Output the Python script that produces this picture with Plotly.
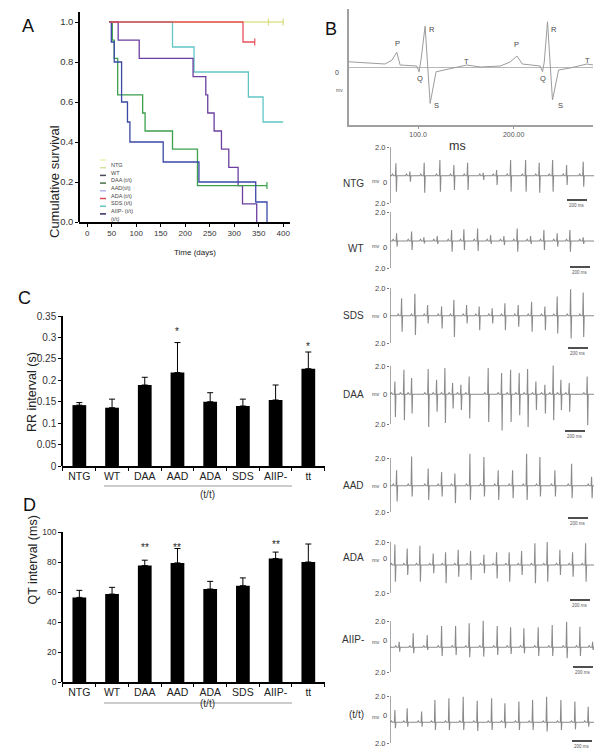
import plotly.graph_objects as go

# The page body adds an 8 px margin, so the figure is sized to the remaining window area
OX, OY = 8, 8
W, H = 602 - OX, 756 - OY
FONT = "Arial, Liberation Sans, sans-serif"


def fx(p):
    return (p - OX) / W


def fy(p):
    return 1 - (p - OY) / H


# ---------------- Panel A : Kaplan-Meier survival ----------------
ntg_days = [45, 400]
ntg_surv = [1.0, 1.0]
aiip_days = [45, 174, 218, 329, 359, 400]
aiip_surv = [1.0, 0.875, 0.75, 0.625, 0.5, 0.5]
ada_days = [45, 63, 106, 216, 242, 246, 259, 274, 289, 308, 317, 346]
ada_surv = [1.0, 0.909, 0.818, 0.727, 0.636, 0.545, 0.455, 0.364, 0.273, 0.182, 0.091, 0.0]
aad_days = [45, 51, 55, 62, 113, 118, 174, 225, 367]
aad_surv = [1.0, 0.909, 0.818, 0.636, 0.545, 0.455, 0.364, 0.182, 0.182]
daa_days = [45, 49, 55, 70, 82, 87, 155, 228, 344, 367]
daa_surv = [1.0, 0.9, 0.8, 0.6, 0.5, 0.4, 0.3, 0.2, 0.1, 0.0]
sds_days = [45, 318, 342]
sds_surv = [1.0, 0.9, 0.9]
censor_days = [370, 400, 342, 367]
censor_surv = [1.0, 1.0, 0.9, 0.182]
censor_colors = ["#d6db84", "#d6db84", "#e8505a", "#3ca04c"]
a_xticks = [0, 50, 100, 150, 200, 250, 300, 350, 400]
a_yticks = [0.0, 0.2, 0.4, 0.6, 0.8, 1.0]
a_yticktext = ["0.0", "0.2", "0.4", "0.6", "0.8", "1.0"]
legend_labels = ["NTG", "WT", "DAA (t/t)", "AAD(t/t)", "ADA (t/t)", "SDS (t/t)", "AIIP- (t/t)", "(t/t)"]
legend_colors = ["#eef0b0", "#d4e29a", "#4a4a5e", "#4a6e4a", "#b4b4ee", "#e04a58", "#66c4c4", "#2e2e5e"]

# ---------------- Panels C and D : bars ----------------
bar_groups = ["NTG", "WT", "DAA", "AAD", "ADA", "SDS", "AIIP-", "tt"]
rr_mean = [0.142, 0.136, 0.189, 0.218, 0.150, 0.140, 0.154, 0.227]
rr_err = [0.006, 0.020, 0.018, 0.070, 0.021, 0.016, 0.035, 0.039]
rr_sig = ["", "", "", "*", "", "", "", "*"]
rr_sig_y = [0, 0, 0, 0.320, 0, 0, 0, 0.287]
rr_ticks = [0, 0.05, 0.1, 0.15, 0.2, 0.25, 0.3, 0.35]
rr_ticktext = ["0", "0.05", "0.1", "0.15", "0.2", "0.25", "0.3", "0.35"]
qt_mean = [56.4, 58.6, 77.6, 79.4, 62.0, 64.2, 82.3, 80.0]
qt_err = [4.7, 4.5, 3.6, 9.6, 5.1, 5.2, 4.3, 12.0]
qt_sig = ["", "", "**", "**", "", "", "**", "**"]
qt_sig_y = [0, 0, 91.9, 91.9, 0, 0, 94.0, 102.0]
qt_ticks = [0, 20, 40, 60, 80, 100]

# ---------------- Panel B : annotated ECG ----------------
ecg_ms = [27.7, 49.7, 65.4, 72.8, 77.7, 81.2, 98.6, 101, 103, 107.3, 112.6, 118.8, 133.5, 151,
          165, 186, 196.3, 203.4, 209, 227.7, 230.2, 232, 235.4, 240.6, 247, 259, 276.6, 283]
ecg_mv = [0.13, 0.10, 0.075, 0.175, 0.37, 0.05, 0.025, -0.12, 0.17, 1.02, -0.91, -0.12, -0.05, 0.05,
          0.0, 0.025, 0.125, 0.275, 0.075, 0.025, -0.12, 0.125, 1.13, -0.825, -0.075, -0.025, 0.075, 0.05]
wave_text = ["P", "R", "Q", "S", "T", "P", "R", "Q", "S", "T"]
wave_ms = [78, 114.7, 102, 118.8, 151, 203.4, 241.7, 231.2, 248.7, 277.3]
wave_mv = [0.60, 0.95, -0.275, -0.95, 0.15, 0.56, 0.95, -0.275, -0.95, 0.175]

# ---------------- Panel B : ECG strips (beat time ms, R and S amplitude mV) ----------------
ntg_beat_ms = [60, 200, 343, 500, 640, 777, 933, 1067, 1207, 1357, 1493, 1627, 1767, 1933]
ntg_r_mv = [0.88, 0.29, 0.93, 1.12, 0.76, 0.93, 0.21, 0.40, 1.12, 1.12, 0.93, 1.12, 0.76, 1.00]
ntg_s_mv = [1.14, 0.43, 1.21, 1.14, 1.02, 1.02, 0.31, 0.67, 1.14, 1.14, 1.21, 1.14, 0.67, 0.79]

wt_beat_ms = [67, 217, 340, 473, 617, 740, 877, 1007, 1140, 1273, 1407, 1540, 1673, 1800, 1933]
wt_r_mv = [0.55, 0.67, 0.26, 0.36, 0.79, 0.83, 0.90, 0.43, 0.36, 0.90, 0.36, 0.79, 0.55, 0.79, 0.26]
wt_s_mv = [0.40, 0.64, 0.17, 0.21, 0.76, 0.64, 0.71, 0.21, 0.29, 0.76, 0.21, 0.64, 0.40, 0.76, 0.21]

sds_beat_ms = [117, 250, 377, 517, 640, 767, 893, 1023, 1150, 1283, 1417, 1550, 1673, 1807, 1933]
sds_r_mv = [1.27, 1.59, 0.78, 0.66, 1.15, 0.78, 0.66, 0.54, 0.90, 0.78, 1.02, 0.66, 1.39, 1.93, 1.68]
sds_s_mv = [1.17, 1.41, 0.56, 0.93, 1.54, 0.56, 1.05, 0.56, 1.05, 0.80, 1.17, 1.05, 1.29, 1.66, 1.54]

daa_beat_ms = [50, 140, 217, 383, 467, 550, 627, 710, 793, 983, 1117, 1207, 1293, 1377, 1460, 1550,
               1633, 1710, 1793, 1973]
daa_r_mv = [0.88, 1.70, 1.12, 1.74, 1.00, 1.81, 0.77, 0.65, 1.23, 1.81, 1.47, 1.70, 1.47, 1.74, 0.88,
            0.65, 1.98, 1.00, 0.77, 1.23]
daa_s_mv = [1.56, 1.79, 1.33, 2.26, 1.21, 1.98, 0.98, 1.09, 1.67, 1.91, 2.49, 1.91, 1.44, 2.26, 1.09,
            1.33, 1.79, 1.09, 1.21, 2.14]

aad_beat_ms = [67, 217, 383, 517, 650, 800, 940, 1083, 1227, 1367, 1500, 1650, 1817, 2017]
aad_r_mv = [1.15, 2.17, 1.27, 1.02, 0.90, 2.37, 2.12, 1.15, 1.15, 2.37, 2.12, 1.15, 1.63, 0.66]
aad_s_mv = [1.17, 0.80, 1.05, 0.80, 1.29, 1.05, 0.80, 1.05, 0.93, 1.05, 0.80, 0.80, 0.93, 0.93]

ada_beat_ms = [50, 173, 300, 433, 557, 683, 807, 940, 1067, 1193, 1317, 1450, 1573, 1700, 1827, 1957]
ada_r_mv = [1.6, 1.3, 1.5, 0.9, 1.0, 1.2, 1.1, 0.8, 1.0, 1.0, 1.1, 1.7, 1.8, 1.2, 1.0, 1.7]
ada_s_mv = [1.31, 0.78, 1.31, 0.65, 1.44, 0.92, 1.18, 0.65, 1.05, 1.31, 0.78, 1.44, 1.31, 0.78, 0.92, 1.31]

aiip_beat_ms = [93, 233, 373, 517, 657, 793, 933, 1073, 1207, 1340, 1483, 1623, 1767, 1900, 2027]
aiip_r_mv = [0.44, 1.10, 0.97, 1.67, 1.67, 1.88, 2.09, 1.67, 1.57, 1.49, 1.57, 1.75, 2.01, 1.62, 0.44]
aiip_s_mv = [0.34, 0.47, 0.21, 0.68, 0.60, 0.78, 0.73, 0.60, 0.52, 0.47, 0.68, 0.68, 0.86, 0.68, 0.21]

tt_beat_ms = [50, 173, 317, 450, 590, 733, 873, 1017, 1150, 1290, 1427, 1567, 1710, 1850, 1983]
tt_r_mv = [1.05, 1.19, 0.91, 1.90, 2.04, 2.18, 1.84, 2.04, 1.62, 1.76, 1.90, 2.18, 1.90, 1.76, 1.33]
tt_s_mv = [0.51, 0.37, 0.37, 0.65, 0.65, 0.65, 0.74, 0.65, 0.51, 0.65, 0.65, 0.79, 0.65, 0.60, 0.37]

strip_names = ["NTG", "WT", "SDS", "DAA", "AAD", "ADA", "AIIP-", "(t/t)"]
strip_beats = [(ntg_beat_ms, ntg_r_mv, ntg_s_mv), (wt_beat_ms, wt_r_mv, wt_s_mv),
               (sds_beat_ms, sds_r_mv, sds_s_mv), (daa_beat_ms, daa_r_mv, daa_s_mv),
               (aad_beat_ms, aad_r_mv, aad_s_mv), (ada_beat_ms, ada_r_mv, ada_s_mv),
               (aiip_beat_ms, aiip_r_mv, aiip_s_mv), (tt_beat_ms, tt_r_mv, tt_s_mv)]

# layout of strips in window pixels: top tick, baseline, bottom tick, scale-bar y, scale-bar x0
strip_geom = [(147, 175.7, 203, 200, 567), (212, 241, 268, 267, 570), (288, 315.7, 343, 348, 568),
              (366, 394.3, 424, 431, 565), (458, 485.7, 512, 518, 568), (542, 565, 593, 600, 570),
              (621, 647.3, 672, 667, 573), (696, 722.3, 743, 741, 572)]

fig = go.Figure()
ann = []
shapes = []
axes = {}

# ---- Panel A traces
for days, surv, col in [(ntg_days, ntg_surv, "#dfe38e"), (aiip_days, aiip_surv, "#62c6c6"),
                        (ada_days, ada_surv, "#6b3fa0"), (aad_days, aad_surv, "#3ca04c"),
                        (daa_days, daa_surv, "#3b48a6"), (sds_days, sds_surv, "#e8505a")]:
    fig.add_trace(go.Scatter(x=days, y=surv, mode="lines", line=dict(color=col, width=1.3, shape="hv"),
                             xaxis="x", yaxis="y", showlegend=False, hoverinfo="skip"))
fig.add_trace(go.Scatter(x=censor_days, y=censor_surv, mode="markers",
                         marker=dict(symbol="line-ns", size=5, line=dict(width=1.2, color=censor_colors)),
                         xaxis="x", yaxis="y", showlegend=False, hoverinfo="skip"))

axes["xaxis"] = dict(domain=[fx(79), fx(290)], range=[-17, 414], anchor="y", tickvals=a_xticks,
                     ticks="outside", ticklen=3, tickcolor="black", showline=True, linecolor="black",
                     linewidth=1.5, showgrid=False, zeroline=False, tickfont=dict(size=8, color="#333"))
axes["yaxis"] = dict(domain=[fy(222), fy(12)], range=[0, 1.05], anchor="free", position=fx(79),
                     tickvals=a_yticks, ticktext=a_yticktext, ticks="outside", ticklen=3, tickcolor="black",
                     showline=True, linecolor="black", linewidth=1.5, showgrid=False, zeroline=False,
                     tickfont=dict(size=9.5, color="#333"))
ann.append(dict(text="Cumulative survival", x=fx(45), y=fy(123), xref="paper", yref="paper",
                textangle=-90, showarrow=False, font=dict(size=13, color="#222")))
ann.append(dict(text="Time (days)", x=fx(172), y=fy(246), xref="paper", yref="paper",
                showarrow=False, font=dict(size=8, color="#222")))
for i, (lab, col) in enumerate(zip(legend_labels, legend_colors)):
    yy = 160 + i * 7.7
    shapes.append(dict(type="line", xref="paper", yref="paper", x0=fx(100), x1=fx(106),
                       y0=fy(yy), y1=fy(yy), line=dict(color=col, width=1.5)))
    ann.append(dict(text=lab, x=fx(108.5), y=fy(yy), xref="paper", yref="paper", xanchor="left",
                    showarrow=False, font=dict(size=5.5, color="#444")))

# ---- Panels C and D
for vals, errs, xa, ya in [(rr_mean, rr_err, "x2", "y2"), (qt_mean, qt_err, "x3", "y3")]:
    fig.add_trace(go.Bar(x=bar_groups, y=vals, width=0.42, marker=dict(color="black", line=dict(width=0)),
                         error_y=dict(type="data", array=errs, arrayminus=[0] * len(errs), symmetric=False,
                                      color="black", thickness=1, width=3),
                         xaxis=xa, yaxis=ya, showlegend=False, hoverinfo="skip"))

for n, (ydom, rng, tv, tt, tfs) in zip([2, 3], [((466, 316), [0, 0.35], rr_ticks, rr_ticktext, 10),
                                                 ((682, 532), [0, 100], qt_ticks, [str(v) for v in qt_ticks], 8.5)]):
    axes[f"xaxis{n}"] = dict(domain=[fx(62), fx(325)], type="category", range=[-0.53, 7.51], anchor=f"y{n}",
                             tickson="boundaries", ticks="outside", ticklen=3, tickcolor="black",
                             showline=True, linecolor="black", linewidth=1.5, showgrid=False, tickangle=0,
                             tickfont=dict(size=10.5, color="#222"))
    axes[f"yaxis{n}"] = dict(domain=[fy(ydom[0]), fy(ydom[1])], range=rng, anchor="free", position=fx(62),
                             tickvals=tv, ticktext=tt, ticks="outside", ticklen=3, tickcolor="black",
                             showline=True, linecolor="black", linewidth=1.5, showgrid=False, zeroline=False,
                             tickfont=dict(size=tfs, color="#333"))

for g, s, sy in zip(bar_groups, rr_sig, rr_sig_y):
    if s:
        ann.append(dict(text=s, x=g, y=sy, xref="x2", yref="y2", showarrow=False, yshift=-3,
                        font=dict(size=10, color="#222")))
for g, s, sy in zip(bar_groups, qt_sig, qt_sig_y):
    if s:
        ann.append(dict(text=s, x=g, y=sy, xref="x3", yref="y3", showarrow=False, yshift=-3,
                        font=dict(size=10, color="#222")))
ann.append(dict(text="RR interval (s)", x=fx(23), y=fy(392), xref="paper", yref="paper", textangle=-90,
                showarrow=False, font=dict(size=12.5, color="#222")))
ann.append(dict(text="QT interval (ms)", x=fx(23), y=fy(607), xref="paper", yref="paper", textangle=-90,
                showarrow=False, font=dict(size=12.5, color="#222")))
for ly, ty in [(486, 494), (703, 711)]:
    shapes.append(dict(type="line", xref="paper", yref="paper", x0=fx(104), x1=fx(292), y0=fy(ly), y1=fy(ly),
                       line=dict(color="#999", width=1)))
    ann.append(dict(text="(t/t)", x=fx(198), y=fy(ty), xref="paper", yref="paper", showarrow=False,
                    font=dict(size=10, color="#333")))

# ---- Panel B top ECG
fig.add_trace(go.Scatter(x=ecg_ms, y=ecg_mv, mode="lines", line=dict(color="#9c9c9c", width=1),
                         xaxis="x4", yaxis="y4", showlegend=False, hoverinfo="skip"))
axes["xaxis4"] = dict(domain=[fx(349), fx(593)], range=[27.7, 283], anchor="y4", tickvals=[100, 200],
                      ticktext=["100.0", "200.00"], ticks="outside", ticklen=2, tickcolor="#999",
                      showline=True, linecolor="#a0a0a0", linewidth=1.5, showgrid=False, zeroline=False,
                      tickfont=dict(size=7, color="#555"))
axes["yaxis4"] = dict(domain=[fy(125), fy(9)], range=[-1.45, 1.45], anchor="x4", showticklabels=False,
                      ticks="", showline=True, linecolor="#a0a0a0", linewidth=1.5, showgrid=False,
                      zeroline=True, zerolinecolor="#b8b8b8", zerolinewidth=0.8)
for t, xm, ym in zip(wave_text, wave_ms, wave_mv):
    ann.append(dict(text=t, x=xm, y=ym, xref="x4", yref="y4", showarrow=False,
                    font=dict(size=7.5, color="#444")))
ann.append(dict(text="0", x=fx(337), y=fy(67), xref="paper", yref="paper", showarrow=False,
                font=dict(size=7, color="#444")))
ann.append(dict(text="mv", x=fx(339), y=fy(85), xref="paper", yref="paper", showarrow=False,
                font=dict(size=5, color="#555")))
ann.append(dict(text="ms", x=fx(468), y=fy(137), xref="paper", yref="paper", showarrow=False,
                font=dict(size=12.5, color="#333")))

# ---- Panel B strips
for i, (name, (bt, br, bs), (top, base, bot, bar_y, bar_x0)) in enumerate(zip(strip_names, strip_beats, strip_geom)):
    n = 5 + i
    k = (bot - top) / 4.0
    xs, ys = [0], [0]
    for t, r, s in zip(bt, br, bs):
        xs += [t - 45, t - 35, t - 25, t - 6, t - 1, t + 4, t + 9]
        ys += [0, 0.12, 0, 0, r, -s, 0]
    xs.append(2040)
    ys.append(0)
    fig.add_trace(go.Scatter(x=xs, y=ys, mode="lines", line=dict(color="#8a8a8a", width=1.1),
                             xaxis=f"x{n}", yaxis=f"y{n}", showlegend=False, hoverinfo="skip"))
    d_top = top - 14
    d_bot = min(bot + 12, 755.5)
    t_top = (base - top) / k
    t_bot = -(bot - base) / k
    axes[f"xaxis{n}"] = dict(domain=[fx(390), fx(594)], range=[0, 2040], anchor=f"y{n}", visible=False)
    axes[f"yaxis{n}"] = dict(domain=[fy(d_bot), fy(d_top)], range=[-(d_bot - base) / k, (base - d_top) / k],
                             anchor=f"x{n}", showline=False, showgrid=False, zeroline=False,
                             tickvals=[t_bot, t_top], ticktext=["2.0", "2.0"], ticks="outside", ticklen=2,
                             tickcolor="#777", tickfont=dict(size=7.5, color="#444"))
    shapes.append(dict(type="line", xref=f"x{n}", yref=f"y{n}", x0=0, x1=0, y0=t_bot, y1=t_top,
                       line=dict(color="#7a7a7a", width=1.3)))
    bx0 = (bar_x0 - 390) * 10
    by = -(bar_y - base) / k
    shapes.append(dict(type="line", xref=f"x{n}", yref=f"y{n}", x0=bx0, x1=bx0 + 200, y0=by, y1=by,
                       line=dict(color="#222", width=1.6)))
    ann.append(dict(text="200 ms", x=bx0 + 100, y=-(bar_y + 5 - base) / k, xref=f"x{n}", yref=f"y{n}",
                    showarrow=False, font=dict(size=4.5, color="#555")))
    ann.append(dict(text=name, x=fx(366), y=fy(base), xref="paper", yref="paper", xanchor="right",
                    showarrow=False, font=dict(size=10, color="#333")))
    ann.append(dict(text="mv", x=fx(376), y=fy(base), xref="paper", yref="paper", showarrow=False,
                    font=dict(size=5.5, color="#555")))
    ann.append(dict(text="0", x=fx(385), y=fy(base), xref="paper", yref="paper", showarrow=False,
                    font=dict(size=7.5, color="#444")))

# ---- Panel letters
for lab, px, py in [("A", 20, 14), ("B", 331, 17), ("C", 16, 298), ("D", 21, 505)]:
    ann.append(dict(text=lab, x=fx(px), y=fy(py), xref="paper", yref="paper", showarrow=False,
                    font=dict(size=18, color="#111")))

for key in axes:
    axes[key]["automargin"] = False

fig.update_layout(width=W, height=H, margin=dict(l=0, r=0, t=0, b=0, pad=0), autosize=False,
                  paper_bgcolor="white", plot_bgcolor="rgba(0,0,0,0)", font=dict(family=FONT),
                  showlegend=False, annotations=ann, shapes=shapes, bargap=0.5, **axes)

fig.write_html("out.html")
